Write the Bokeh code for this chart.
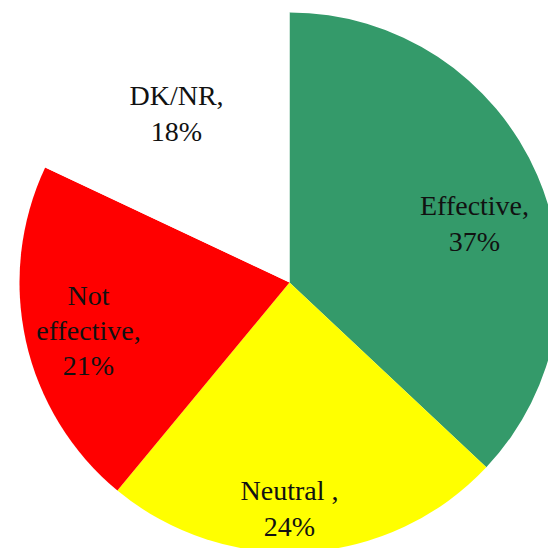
import numpy as np
from bokeh.plotting import figure
from bokeh.models import Range1d, ColumnDataSource
from bokeh.core.properties import value
from bokeh.embed import file_html
from bokeh.resources import INLINE

# Data
categories = ["Effective", "Neutral ", "Not effective", "DK/NR"]
percents = [37, 24, 21, 18]
colors = ["#349A6A", "#FFFF00", "#FF0000", "#FFFFFF"]
label_texts = ["Effective,\n37%", "Neutral ,\n24%", "Not\neffective,\n21%", "DK/NR,\n18%"]

# Layout (label positions, data units = pixels, pie centre = 0,0)
label_x = [185, 0, -201, -113]
label_y = [59, -226, -48, 169]

vals = np.array(percents, dtype=float)
frac = vals / vals.sum()
cum = np.concatenate([[0.0], np.cumsum(frac)])
start = np.pi / 2 - cum[:-1] * 2 * np.pi
end = np.pi / 2 - cum[1:] * 2 * np.pi

src = ColumnDataSource(dict(cat=categories, start=start, end=end, color=colors))

p = figure(width=548, height=548, x_range=Range1d(-289, 259), y_range=Range1d(-266, 282),
           output_backend="svg", toolbar_location=None, min_border=0)
p.axis.visible = False
p.grid.visible = False
p.outline_line_color = None
p.background_fill_color = "white"

p.wedge(x=0, y=0, radius=270, start_angle="start", end_angle="end", direction="clock",
        fill_color="color", line_color=None, source=src)

lsrc = ColumnDataSource(dict(x=label_x, y=label_y, t=label_texts))
p.text(x="x", y="y", text="t", source=lsrc, text_align="center", text_baseline="middle",
       text_font=value("Liberation Serif"), text_font_size="28px", text_color="#111111",
       text_line_height=1.13)

open("out.html", "w").write(file_html(p, INLINE))
